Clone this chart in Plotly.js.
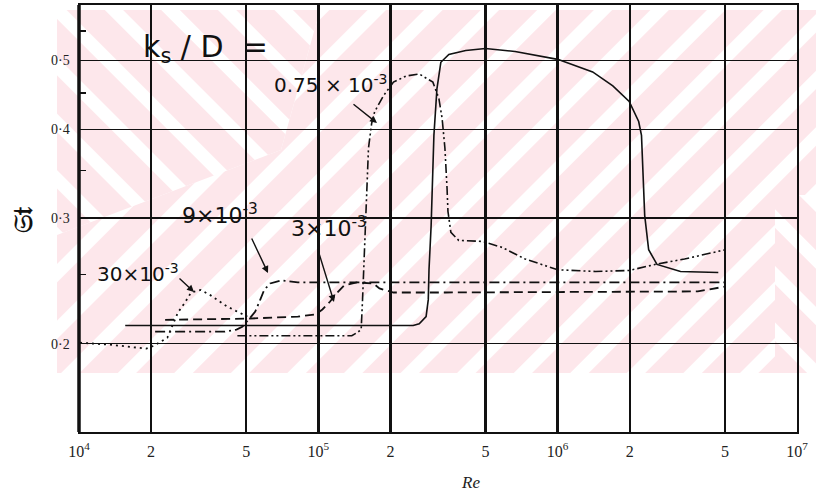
<!DOCTYPE html>
<html>
<head>
<meta charset="utf-8">
<script src="https://cdn.plot.ly/plotly-3.0.1.min.js"></script>
<style>html,body{margin:0;padding:0;background:#fff;}#chart{width:816px;height:497px;}</style>
</head>
<body>
<div id="chart"></div>
<script>
// ---- data (Re, St) ----
const xTickVals = [1e4, 2e4, 5e4, 1e5, 2e5, 5e5, 1e6, 2e6, 5e6, 1e7];
const xTickText = ['10<sup>4</sup>', '2', '5', '10<sup>5</sup>', '2', '5', '10<sup>6</sup>', '2', '5', '10<sup>7</sup>'];
const yTickVals = [0.2, 0.3, 0.4, 0.5];
const yTickText = ['0·2', '0·3', '0·4', '0·5'];
const yMinorVals = [0.25, 0.35, 0.45, 0.55];

// solid curve (unlabelled)
const reSolid = [1.56e4, 2.49e5, 2.64e5, 2.82e5, 2.88e5, 2.90e5, 2.96e5, 3.04e5, 3.13e5, 3.25e5, 3.51e5, 4.13e5, 4.99e5, 6.64e5, 1.0e6, 1.40e6, 1.70e6, 1.99e6, 2.18e6, 2.24e6, 2.31e6, 2.40e6, 2.60e6, 3.26e6, 4.69e6];
const stSolid = [0.2121, 0.2121, 0.2133, 0.2183, 0.2306, 0.254, 0.293, 0.3922, 0.456, 0.4969, 0.5097, 0.5161, 0.5194, 0.5146, 0.5016, 0.4816, 0.4603, 0.4378, 0.4103, 0.3922, 0.3029, 0.271, 0.2584, 0.2526, 0.2518];

// ks/D = 0.75e-3 (dash-dot-dot)
const re075 = [4.59e4, 1.38e5, 1.45e5, 1.51e5, 1.53e5, 1.56e5, 1.59e5, 1.62e5, 1.67e5, 1.72e5, 1.87e5, 2.06e5, 2.33e5, 2.64e5, 3.01e5, 3.19e5, 3.29e5, 3.38e5, 3.45e5, 3.48e5, 3.58e5, 3.86e5, 4.85e5, 5.87e5, 7.31e5, 1.0e6, 1.44e6, 1.99e6, 2.55e6, 3.39e6, 5.02e6];
const st075 = [0.2052, 0.2052, 0.2072, 0.2093, 0.2306, 0.271, 0.3199, 0.3763, 0.4077, 0.4237, 0.4458, 0.466, 0.4754, 0.4784, 0.466, 0.4418, 0.4142, 0.3763, 0.3306, 0.3068, 0.2866, 0.2793, 0.2784, 0.273, 0.263, 0.254, 0.2526, 0.2534, 0.2584, 0.263, 0.271];

// ks/D = 3e-3 (dashed)
const re3 = [2.29e4, 5.10e4, 8.21e4, 9.73e4, 1.04e5, 1.12e5, 1.20e5, 1.28e5, 1.45e5, 1.70e5, 1.80e5, 2.06e5, 3.41e5, 3.85e6, 5.02e6];
const st3 = [0.216, 0.2169, 0.2183, 0.2198, 0.2234, 0.2292, 0.236, 0.2414, 0.2438, 0.243, 0.2391, 0.236, 0.236, 0.2368, 0.2406];

// ks/D = 9e-3 (dash-dot)
const re9 = [2.08e4, 4.06e4, 4.55e4, 4.81e4, 5.20e4, 5.45e4, 5.72e4, 5.94e4, 6.29e4, 6.98e4, 8.21e4, 5.02e6];
const st9 = [0.2079, 0.2079, 0.2093, 0.2112, 0.2176, 0.2219, 0.2306, 0.238, 0.243, 0.2454, 0.2438, 0.2438];

// ks/D = 30e-3 (dotted)
const re30 = [1.01e4, 1.34e4, 1.91e4, 2.06e4, 2.34e4, 2.59e4, 2.77e4, 2.94e4, 3.23e4, 3.55e4, 4.17e4, 5.05e4];
const st30 = [0.2006, 0.1994, 0.1968, 0.1987, 0.2039, 0.2212, 0.2284, 0.236, 0.238, 0.2338, 0.2254, 0.2183];

// ---- layout helpers (pixel -> paper) ----
const L = 79, R = 797, T = 5, B = 432;
const px = v => (v - L) / (R - L);
const py = v => (B - v) / (B - T);

// watermark (scan background) as an SVG image
const pink = '#fde7eb';
const svg = `<svg xmlns="http://www.w3.org/2000/svg" width="816" height="497" viewBox="0 0 816 497">
<defs>
<pattern id="a" patternUnits="userSpaceOnUse" width="40" height="40" patternTransform="rotate(45)"><rect x="0" y="0" width="27" height="40" fill="${pink}"/></pattern>
<pattern id="b" patternUnits="userSpaceOnUse" width="40" height="40" patternTransform="rotate(-45)"><rect x="0" y="0" width="27" height="40" fill="${pink}"/></pattern>
</defs>
<rect x="57" y="10" width="759" height="363" fill="url(#a)"/>
<polygon points="57,10 320,10 281,150 57,235" fill="#fff"/>
<polygon points="57,10 320,10 281,150 57,235" fill="url(#b)"/>
<polygon points="775,195 816,195 816,373 775,373" fill="#fff"/>
<polygon points="775,195 816,195 816,373 775,373" fill="url(#b)"/>
</svg>`;
const svgUri = 'data:image/svg+xml;charset=utf-8,' + encodeURIComponent(svg);

const ink = '#111';
const traces = [
  {x: reSolid, y: stSolid, mode: 'lines', line: {color: ink, width: 1.6}, name: 'smooth'},
  {x: re075, y: st075, mode: 'lines', line: {color: ink, width: 1.6, dash: '9px,3px,2px,3px,2px,3px'}, name: '0.75×10⁻³'},
  {x: re3, y: st3, mode: 'lines', line: {color: ink, width: 1.8, dash: '9px,5px'}, name: '3×10⁻³'},
  {x: re9, y: st9, mode: 'lines', line: {color: ink, width: 1.8, dash: '10px,4px,2px,4px'}, name: '9×10⁻³'},
  {x: re30, y: st30, mode: 'lines', line: {color: ink, width: 1.8, dash: '2px,4px'}, name: '30×10⁻³'}
];

const hand = {family: 'DejaVu Sans', color: ink};
function txt(t, x, y, size) {
  return {text: t, xref: 'paper', yref: 'paper', x: px(x), y: py(y), xanchor: 'left', yanchor: 'middle',
          showarrow: false, font: Object.assign({}, hand, {size: size})};
}
function arrow(hx, hy, tx, ty) {
  return {text: '', xref: 'paper', yref: 'paper', x: px(hx), y: py(hy), ax: tx - hx, ay: ty - hy,
          showarrow: true, arrowhead: 2, arrowsize: 1, arrowwidth: 1.4, arrowcolor: ink};
}

const layout = {
  width: 816, height: 497,
  margin: {l: L, r: 816 - R, t: T, b: 497 - B},
  paper_bgcolor: '#fff', plot_bgcolor: 'rgba(0,0,0,0)',
  showlegend: false,
  xaxis: {
    type: 'log', range: [4, 7],
    tickmode: 'array', tickvals: xTickVals, ticktext: xTickText,
    showgrid: true, gridcolor: ink, gridwidth: 2.4,
    showline: true, mirror: true, linecolor: ink, linewidth: 2,
    ticks: 'outside', ticklen: 4, tickcolor: 'rgba(0,0,0,0)',
    tickfont: {family: 'Liberation Serif', size: 16, color: '#222'},
    zeroline: false
  },
  yaxis: {
    type: 'log', range: [Math.log10(0.1503), Math.log10(0.598)],
    tickmode: 'array', tickvals: yTickVals, ticktext: yTickText,
    showgrid: true, gridcolor: ink, gridwidth: 1.6,
    showline: true, mirror: true, linecolor: ink, linewidth: 1.5,
    ticks: 'outside', ticklen: 5, tickcolor: 'rgba(0,0,0,0)',
    tickfont: {family: 'Liberation Serif', size: 14, color: '#222'},
    minor: {tickvals: yMinorVals, ticks: 'inside', ticklen: 7, tickwidth: 1.5, tickcolor: ink, showgrid: false},
    zeroline: false
  },
  images: [{source: svgUri, xref: 'paper', yref: 'paper', x: -L / (R - L), y: B / (B - T),
            sizex: 816 / (R - L), sizey: 497 / (B - T), xanchor: 'left', yanchor: 'top',
            sizing: 'stretch', layer: 'below'}],
  shapes: [
    {type: 'line', xref: 'paper', yref: 'paper', x0: 0, x1: 0, y0: 0, y1: 1, line: {color: ink, width: 3.5}}
  ],
  annotations: [
    txt('k<sub>s</sub> / D  =', 141, 48, 30),
    txt('0.75 × 10<sup>-3</sup>', 272, 84, 20),
    txt('9×10<sup>-3</sup>', 180, 214, 22),
    txt('3×10<sup>-3</sup>', 289, 227, 22),
    txt('30×10<sup>-3</sup>', 95, 273, 20),
    arrow(377, 123, 352, 103),
    arrow(268, 273, 251, 237),
    arrow(334, 302, 318, 250),
    arrow(194, 292, 178, 277),
    {text: '<i>Re</i>', xref: 'paper', yref: 'paper', x: px(470), y: py(483), xanchor: 'center', yanchor: 'middle',
     showarrow: false, font: {family: 'Liberation Serif', size: 17, color: '#222'}},
    {text: '<b>𝔖𝔱</b>', xref: 'paper', yref: 'paper', x: px(23), y: py(220), xanchor: 'center', yanchor: 'middle',
     textangle: -90, showarrow: false, font: {family: 'DejaVu Serif', size: 26, color: ink}}
  ]
};

Plotly.newPlot('chart', traces, layout, {staticPlot: true, displayModeBar: false});
</script>
</body>
</html>
